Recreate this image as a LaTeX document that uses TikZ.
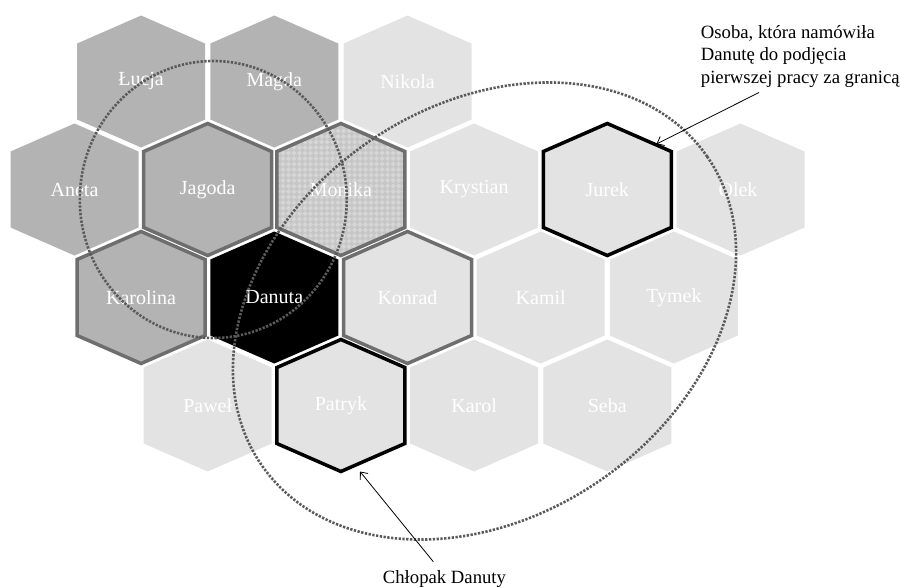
\documentclass[tikz,border=0pt]{standalone}
\usepackage{fontspec}
\setmainfont{Liberation Serif}
\usetikzlibrary{arrows.meta}
\definecolor{hexdark}{HTML}{B3B3B3}
\definecolor{hexlight}{HTML}{E3E3E3}
\definecolor{hexedge}{HTML}{6E6E6E}
\definecolor{dotcol}{HTML}{5A5A5A}
\definecolor{monbase}{HTML}{C6C6C6}
\definecolor{mondia}{HTML}{D6D6D6}
\tikzset{
  pics/hexcell/.style={code={\path[pic actions] (0pt,-66pt) -- (64pt,-38pt) -- (64pt,38pt) -- (0pt,66pt) -- (-64pt,38pt) -- (-64pt,-38pt) -- cycle;}},
  darkcell/.style={fill=hexdark},
  lightcell/.style={fill=hexlight},
  greyedge/.style={draw=hexedge, line width=3.5pt},
  blackedge/.style={draw=black, line width=3.5pt},
  hexlabel/.style={text=white, inner sep=0pt, font=\fontsize{20}{24}\selectfont},
  note/.style={text=black, inner sep=0pt, align=left, font=\fontsize{18.7}{22.5}\selectfont},
  ring/.style={draw=dotcol, line width=2.6pt, dash pattern=on 2.3pt off 1.5pt},
  arr/.style={draw=black, line width=0.8pt, -{Straight Barb[length=6pt,width=10pt]}},
}
\begin{document}
\begin{tikzpicture}[x=1pt,y=-1pt]
\useasboundingbox (0,0) rectangle (901,587);
% fills
\pic[darkcell] at (141.1,81.5) {hexcell};
\pic[darkcell] at (274.3,81.5) {hexcell};
\pic[lightcell] at (407.5,81.5) {hexcell};
\pic[darkcell] at (74.5,189.5) {hexcell};
\pic[darkcell] at (207.7,189.5) {hexcell};
\begin{scope}
  \clip (340.9,123.5) -- (404.9,151.5) -- (404.9,227.5) -- (340.9,255.5) -- (276.9,227.5) -- (276.9,151.5) -- cycle;
  \fill[monbase] (270,118) rectangle (412,262);
  \foreach \i in {0,...,26} {
    \foreach \j in {0,...,26} {
      \fill[mondia] ({272+\i*5.5},{120+\j*5.5}) +(0,-2.5) -- +(2.5,0) -- +(0,2.5) -- +(-2.5,0) -- cycle;
    }
  }
\end{scope}
\pic[lightcell] at (474.1,189.5) {hexcell};
\pic[lightcell] at (607.3,189.5) {hexcell};
\pic[lightcell] at (740.5,189.5) {hexcell};
\pic[darkcell] at (141.1,297.5) {hexcell};
\pic[fill=black] at (274.3,297.5) {hexcell};
\pic[lightcell] at (407.5,297.5) {hexcell};
\pic[lightcell] at (540.7,297.5) {hexcell};
\pic[lightcell] at (673.9,297.5) {hexcell};
\pic[lightcell] at (207.7,405.5) {hexcell};
\pic[lightcell] at (340.9,405.5) {hexcell};
\pic[lightcell] at (474.1,405.5) {hexcell};
\pic[lightcell] at (607.3,405.5) {hexcell};
% borders
\pic[greyedge] at (207.7,189.5) {hexcell};
\pic[greyedge] at (340.9,189.5) {hexcell};
\pic[greyedge] at (141.1,297.5) {hexcell};
\pic[greyedge] at (407.5,297.5) {hexcell};
\pic[blackedge] at (607.3,189.5) {hexcell};
\pic[blackedge] at (340.9,405.5) {hexcell};
% labels
\node[hexlabel] (lucja) at (141.1,81.5) {Łucja};
\node[hexlabel] (magda) at (274.3,81.5) {Magda};
\node[hexlabel] (nikola) at (407.5,81.5) {Nikola};
\node[hexlabel] (aneta) at (74.5,189.5) {Aneta};
\node[hexlabel] (jagoda) at (207.7,189.5) {Jagoda};
\node[hexlabel] (monika) at (340.9,189.5) {Monika};
\node[hexlabel] (krystian) at (474.1,189.5) {Krystian};
\node[hexlabel] (jurek) at (607.3,189.5) {Jurek};
\node[hexlabel] (olek) at (738,189.5) {Olek};
\node[hexlabel] (karolina) at (141.1,297.5) {Karolina};
\node[hexlabel] (danuta) at (274.3,297.5) {Danuta};
\node[hexlabel] (konrad) at (407.5,297.5) {Konrad};
\node[hexlabel] (kamil) at (540.7,297.5) {Kamil};
\node[hexlabel] (tymek) at (673.9,297.5) {Tymek};
\node[hexlabel] (pawel) at (207.7,405.5) {Paweł};
\node[hexlabel] (patryk) at (340.9,405.5) {Patryk};
\node[hexlabel] (karol) at (474.1,405.5) {Karol};
\node[hexlabel] (seba) at (607.3,405.5) {Seba};
% dotted rings
\draw[ring] (213.3,199.5) ellipse [x radius=133.5pt, y radius=138.5pt];
\draw[ring, rotate around={34.7:(484.5,311)}] (484.5,311) ellipse [x radius=271pt, y radius=205.1pt];
% annotations
\node[note, anchor=north west] (osoba) at (700.7,25) {Osoba, która namówiła\\Danutę do podjęcia\\pierwszej pracy za granicą};
\node[note, anchor=base west] (chlopak) at (382.7,583) {Chłopak Danuty};
\coordinate (a1s) at (759,92.5);
\coordinate (a1e) at (656.5,144);
\coordinate (a2s) at (433.3,561.7);
\coordinate (a2e) at (360,471.5);
\draw[arr] (a1s) -- (a1e);
\draw[arr] (a2s) -- (a2e);
\end{tikzpicture}
\end{document}
